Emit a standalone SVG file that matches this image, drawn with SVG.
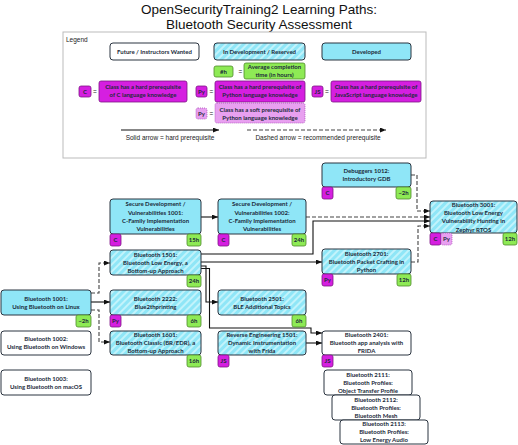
<svg xmlns="http://www.w3.org/2000/svg" width="518" height="445" viewBox="0 0 518 445">
<defs>
<pattern id="hatch" patternUnits="userSpaceOnUse" width="5" height="5" patternTransform="rotate(45)">
<rect width="5" height="5" fill="#8fe6f7"/>
<rect width="2" height="5" fill="#c2f3fb"/>
</pattern>
<marker id="ah" markerUnits="userSpaceOnUse" markerWidth="6" markerHeight="5" refX="6" refY="2.5" orient="auto">
<path d="M0,0 L6,2.5 L0,5 z" fill="#111"/>
</marker>
</defs>
<style>
.box{stroke:#2b3440;stroke-width:1}
.dev{fill:#8fe6f7}
.wip{fill:url(#hatch)}
.fut{fill:#fff}
.t{font-family:Lato,"Liberation Sans",sans-serif;font-weight:700;font-size:6px;fill:#1b2a3a;text-anchor:middle}
.lt{font-family:"Liberation Sans",Arial,sans-serif;font-size:6.5px;fill:#222}
.c{fill:#d51fe0;stroke:#7d1585;stroke-width:0.8}
.h{fill:#8eea55;stroke:#4f8a2b;stroke-width:0.8}
.py{fill:#e8a0f0;stroke:#a94cb8;stroke-width:0.8;stroke-dasharray:1,1}
.tg{font-family:Lato,"Liberation Sans",sans-serif;font-weight:700;font-size:6px;fill:#1b2a3a;text-anchor:middle}
.sl{fill:none;stroke:#111;stroke-width:1.1}
.dl{fill:none;stroke:#444;stroke-width:1.1;stroke-dasharray:4,2}
</style>
<rect width="518" height="445" fill="#fff"/>
<g id="title" font-family="'Liberation Sans',Arial,sans-serif" font-size="13.5" fill="#111" text-anchor="middle">
<text x="259" y="14">OpenSecurityTraining2 Learning Paths:</text>
<text x="259" y="28.5">Bluetooth Security Assessment</text>
</g>
<g id="legend">
<rect x="63" y="32" width="363" height="126" fill="#fff" stroke="#bbb" stroke-width="1"/>
<text x="66" y="42" class="lt" font-size="7">Legend</text>
<rect x="110" y="43" width="89" height="17" rx="3" class="box fut"/>
<text x="154.5" y="54" class="t">Future / Instructors Wanted</text>
<rect x="214" y="43" width="91" height="17" rx="3" class="box wip"/>
<text x="259.5" y="54" class="t">In Development / Reserved</text>
<rect x="322" y="43" width="89" height="17" rx="3" class="box dev"/>
<text x="366.5" y="54" class="t">Developed</text>
<rect x="214" y="66" width="19" height="11" rx="2" class="h"/>
<text x="223.5" y="73.5" class="tg">#h</text>
<text x="238.5" y="74" class="lt">=</text>
<rect x="244" y="63" width="61" height="16" rx="2" class="h"/>
<text x="274.5" y="69" class="t" font-size="5.8">Average completion</text>
<text x="274.5" y="76.8" class="t" font-size="5.8">time (in hours)</text>
<rect x="79" y="86" width="12" height="11" rx="2" class="c"/>
<text x="85" y="93.5" class="tg">C</text>
<text x="93" y="94" class="lt">=</text>
<rect x="99" y="81" width="88" height="21" rx="2" class="c"/>
<text x="143" y="89.2" class="t" font-size="5.8">Class has a hard prerequisite</text>
<text x="143" y="97.4" class="t" font-size="5.8">of C language knowledge</text>
<rect x="196" y="86" width="11" height="11" rx="2" class="c"/>
<text x="201.5" y="93.5" class="tg">Py</text>
<text x="209.5" y="94" class="lt">=</text>
<rect x="215" y="81" width="90" height="21" rx="2" class="c"/>
<text x="260" y="89.2" class="t" font-size="5.8">Class has a hard prerequisite of</text>
<text x="260" y="97.4" class="t" font-size="5.8">Python language knowledge</text>
<rect x="312" y="86" width="11" height="11" rx="2" class="c"/>
<text x="317.5" y="93.5" class="tg">JS</text>
<text x="325" y="94" class="lt">=</text>
<rect x="331" y="81" width="90" height="21" rx="2" class="c"/>
<text x="376" y="89.2" class="t" font-size="5.8">Class has a hard prerequisite of</text>
<text x="376" y="97.4" class="t" font-size="5.8">JavaScript language knowledge</text>
<rect x="196" y="108" width="11" height="11" rx="2" class="py"/>
<text x="201.5" y="115.5" class="tg">Py</text>
<text x="209.5" y="116" class="lt">=</text>
<rect x="215" y="103" width="90" height="20" rx="2" class="py"/>
<text x="260" y="111.5" class="t" font-size="5.8">Class has a soft prerequisite of</text>
<text x="260" y="119.5" class="t" font-size="5.8">Python language knowledge</text>
<line x1="121" y1="130" x2="219" y2="130" class="sl" marker-end="url(#ah)"/>
<text x="170" y="139.5" class="lt" text-anchor="middle">Solid arrow = hard prerequisite</text>
<line x1="247" y1="130" x2="386" y2="130" class="dl" marker-end="url(#ah)"/>
<text x="318" y="139.5" class="lt" text-anchor="middle">Dashed arrow = recommended prerequisite</text>
</g>
<g id="connectors">
<path d="M201,217 H218" class="sl" marker-end="url(#ah)"/>
<path d="M306,217 H430" class="dl" marker-end="url(#ah)"/>
<path d="M411,175 H417 V211 H430" class="dl" marker-end="url(#ah)"/>
<path d="M201,254 H313 V221 H430" class="sl" marker-end="url(#ah)"/>
<path d="M201,262 H322" class="sl" marker-end="url(#ah)"/>
<path d="M411,262 H418 V226 H430" class="dl" marker-end="url(#ah)"/>
<path d="M201,266 H206 V302 H218" class="sl" marker-end="url(#ah)"/>
<path d="M201,268.5 H209.5 V328 H311 V333 H322" class="sl" marker-end="url(#ah)"/>
<path d="M306,343 H322" class="sl" marker-end="url(#ah)"/>
<path d="M91,302 H110" class="sl" marker-end="url(#ah)"/>
<path d="M91,293 H99 V263 H110" class="dl" marker-end="url(#ah)"/>
<path d="M91,310 H99 V342 H110" class="dl" marker-end="url(#ah)"/>
</g>
<g id="sd1001">
<rect x="110" y="199" width="91" height="35" rx="3" class="box dev"/>
<text class="t" x="155.5" y="206.4">Secure Development /</text>
<text class="t" x="155.5" y="214.6">Vulnerabilities 1001:</text>
<text class="t" x="155.5" y="222.8">C-Family Implementation</text>
<text class="t" x="155.5" y="231">Vulnerabilities</text>
<rect x="110" y="234" width="11" height="12" rx="2" class="c"/><text class="tg" x="115.5" y="242.2">C</text>
<rect x="187" y="234" width="14" height="12" rx="2" class="h"/><text class="tg" x="194" y="242.2">15h</text>
</g>
<g id="sd1002">
<rect x="218" y="199" width="88" height="35" rx="3" class="box dev"/>
<text class="t" x="262" y="206.4">Secure Development /</text>
<text class="t" x="262" y="214.6">Vulnerabilities 1002:</text>
<text class="t" x="262" y="222.8">C-Family Implementation</text>
<text class="t" x="262" y="231">Vulnerabilities</text>
<rect x="218" y="234" width="11" height="12" rx="2" class="c"/><text class="tg" x="223.5" y="242.2">C</text>
<rect x="292" y="234" width="14" height="12" rx="2" class="h"/><text class="tg" x="299" y="242.2">24h</text>
</g>
<g id="dbg1012">
<rect x="322" y="163" width="89" height="24" rx="3" class="box dev"/>
<text class="t" x="366.5" y="173.1">Debuggers 1012:</text>
<text class="t" x="366.5" y="181.3">Introductory GDB</text>
<rect x="322" y="187" width="11" height="12" rx="2" class="c"/><text class="tg" x="327.5" y="195.2">C</text>
<rect x="396" y="187" width="15" height="12" rx="2" class="h"/><text class="tg" x="403.5" y="195.2">~2h</text>
</g>
<g id="bt3001">
<rect x="430" y="201" width="87" height="32" rx="3" class="box wip"/>
<text class="t" x="473.5" y="206.9">Bluetooth 3001:</text>
<text class="t" x="473.5" y="215.1">Bluetooth Low Energy</text>
<text class="t" x="473.5" y="223.3">Vulnerability Hunting in</text>
<text class="t" x="473.5" y="231.5">Zephyr RTOS</text>
<rect x="430" y="233" width="11" height="12" rx="2" class="c"/><text class="tg" x="435.5" y="241.2">C</text>
<rect x="441" y="233" width="11" height="12" rx="2" class="py"/><text class="tg" x="446.5" y="241.2">Py</text>
<rect x="503" y="233" width="14" height="12" rx="2" class="h"/><text class="tg" x="510" y="241.2">12h</text>
</g>
<g id="bt1501">
<rect x="110" y="250" width="91" height="25" rx="3" class="box wip"/>
<text class="t" x="155.5" y="256.5">Bluetooth 1501:</text>
<text class="t" x="155.5" y="264.7">Bluetooth Low Energy, a</text>
<text class="t" x="155.5" y="272.9">Bottom-up Approach</text>
<rect x="187" y="275" width="14" height="12" rx="2" class="h"/><text class="tg" x="194" y="283.2">24h</text>
</g>
<g id="bt2701">
<rect x="322" y="249" width="89" height="25" rx="3" class="box wip"/>
<text class="t" x="366.5" y="255.5">Bluetooth 2701:</text>
<text class="t" x="366.5" y="263.7">Bluetooth Packet Crafting in</text>
<text class="t" x="366.5" y="271.9">Python</text>
<rect x="322" y="274" width="11" height="12" rx="2" class="c"/><text class="tg" x="327.5" y="282.2">Py</text>
<rect x="397" y="274" width="14" height="12" rx="2" class="h"/><text class="tg" x="404" y="282.2">12h</text>
</g>
<g id="bt1001">
<rect x="1" y="290" width="90" height="25" rx="3" class="box dev"/>
<text class="t" x="46" y="300.6">Bluetooth 1001:</text>
<text class="t" x="46" y="308.8">Using Bluetooth on Linux</text>
<rect x="76" y="315" width="15" height="12" rx="2" class="h"/><text class="tg" x="83.5" y="323.2">~2h</text>
</g>
<g id="bt2222">
<rect x="110" y="290" width="91" height="25" rx="3" class="box wip"/>
<text class="t" x="155.5" y="300.6">Bluetooth 2222:</text>
<text class="t" x="155.5" y="308.8">Blue2thprinting</text>
<rect x="110" y="315" width="11" height="12" rx="2" class="c"/><text class="tg" x="115.5" y="323.2">Py</text>
<rect x="187" y="315" width="14" height="12" rx="2" class="h"/><text class="tg" x="194" y="323.2">6h</text>
</g>
<g id="bt2501">
<rect x="218" y="290" width="88" height="25" rx="3" class="box wip"/>
<text class="t" x="262" y="300.6">Bluetooth 2501:</text>
<text class="t" x="262" y="308.8">BLE Additional Topics</text>
<rect x="292" y="315" width="14" height="12" rx="2" class="h"/><text class="tg" x="299" y="323.2">6h</text>
</g>
<g id="bt1002">
<rect x="1" y="331" width="90" height="24" rx="3" class="box fut"/>
<text class="t" x="46" y="341.1">Bluetooth 1002:</text>
<text class="t" x="46" y="349.3">Using Bluetooth on Windows</text>
</g>
<g id="bt1601">
<rect x="110" y="331" width="91" height="24" rx="3" class="box wip"/>
<text class="t" x="155.5" y="336.5">Bluetooth 1601:</text>
<text class="t" x="155.5" y="344.7">Bluetooth Classic (BR/EDR), a</text>
<text class="t" x="155.5" y="352.9">Bottom-up Approach</text>
<rect x="187" y="355" width="14" height="12" rx="2" class="h"/><text class="tg" x="194" y="363.2">16h</text>
</g>
<g id="re1501">
<rect x="218" y="331" width="88" height="24" rx="3" class="box wip"/>
<text class="t" x="262" y="336.5">Reverse Engineering 1501:</text>
<text class="t" x="262" y="344.7">Dynamic Instrumentation</text>
<text class="t" x="262" y="352.9">with Frida</text>
<rect x="218" y="355" width="11" height="12" rx="2" class="c"/><text class="tg" x="223.5" y="363.2">JS</text>
</g>
<g id="bt2401">
<rect x="322" y="331" width="89" height="24" rx="3" class="box fut"/>
<text class="t" x="366.5" y="336.5">Bluetooth 2401:</text>
<text class="t" x="366.5" y="344.7">Bluetooth app analysis with</text>
<text class="t" x="366.5" y="352.9">FRIDA</text>
<rect x="322" y="355" width="11" height="12" rx="2" class="c"/><text class="tg" x="327.5" y="363.2">JS</text>
</g>
<g id="bt1003">
<rect x="1" y="370" width="90" height="25" rx="3" class="box fut"/>
<text class="t" x="46" y="380.6">Bluetooth 1003:</text>
<text class="t" x="46" y="388.8">Using Bluetooth on macOS</text>
</g>
<g id="bt2111">
<rect x="324" y="370" width="88" height="25" rx="3" class="box fut"/>
<text class="t" x="368" y="376.5">Bluetooth 2111:</text>
<text class="t" x="368" y="384.7">Bluetooth Profiles:</text>
<text class="t" x="368" y="392.9">Object Transfer Profile</text>
</g>
<g id="bt2112">
<rect x="332" y="395" width="88" height="25" rx="3" class="box fut"/>
<text class="t" x="376" y="401.5">Bluetooth 2112:</text>
<text class="t" x="376" y="409.7">Bluetooth Profiles:</text>
<text class="t" x="376" y="417.9">Bluetooth Mesh</text>
</g>
<g id="bt2113">
<rect x="340" y="420" width="88" height="24" rx="3" class="box fut"/>
<text class="t" x="384" y="426">Bluetooth 2113:</text>
<text class="t" x="384" y="434.2">Bluetooth Profiles:</text>
<text class="t" x="384" y="442.4">Low Energy Audio</text>
</g>
</svg>
